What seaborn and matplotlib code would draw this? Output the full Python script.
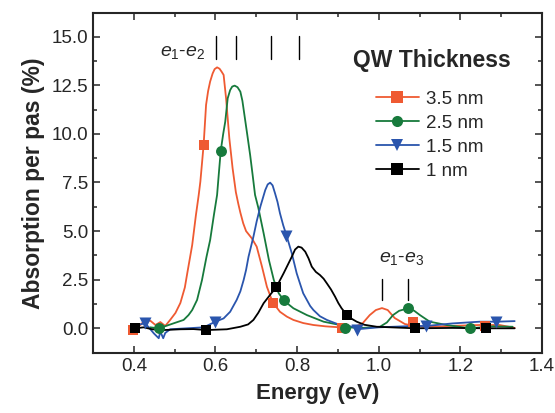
import numpy as np
import pandas as pd
import matplotlib
matplotlib.use("Agg")
import matplotlib.pyplot as plt
from matplotlib.lines import Line2D
from matplotlib.ticker import MultipleLocator
import seaborn as sns

# ---------------- data ----------------
labels = ["3.5 nm", "2.5 nm", "1.5 nm", "1 nm"]
colors = ["#ef5a32", "#177a3c", "#2a55ad", "#000000"]
markers = ["s", "o", "v", "s"]

x_35 = [0.397, 0.416, 0.428, 0.441, 0.453, 0.465, 0.477, 0.489, 0.502, 0.514, 0.525, 0.531,
        0.543, 0.552, 0.559, 0.563, 0.571, 0.577, 0.582, 0.587, 0.593, 0.598, 0.604, 0.610,
        0.615, 0.620, 0.626, 0.634, 0.642, 0.650, 0.656, 0.661, 0.668, 0.675, 0.689, 0.701,
        0.714, 0.726, 0.738, 0.742, 0.758, 0.775, 0.791, 0.815, 0.840, 0.870, 0.905, 0.942,
        0.961, 0.978, 0.993, 1.008, 1.022, 1.039, 1.064, 1.088, 1.125, 1.174, 1.248, 1.296,
        1.333]
y_35 = [-0.09, 0.17, 0.43, 0.38, 0.17, 0.32, 0.12, 0.43, 0.79, 1.30, 2.10, 2.84,
        4.28, 5.80, 6.86, 7.54, 9.43, 11.49, 12.20, 12.69, 13.10, 13.33, 13.42, 13.35,
        13.20, 13.03, 11.83, 9.77, 8.23, 7.00, 6.40, 5.95, 5.40, 5.00, 4.63, 4.20,
        3.17, 2.14, 1.46, 1.29, 0.85, 0.60, 0.43, 0.27, 0.17, 0.10, 0.05, 0.07,
        0.27, 0.68, 0.94, 1.04, 0.94, 0.53, 0.22, 0.12, 0.07, 0.12, 0.17, 0.17,
        0.02]

x_25 = [0.440, 0.461, 0.473, 0.498, 0.522, 0.534, 0.543, 0.555, 0.567, 0.578, 0.587, 0.596,
        0.604, 0.608, 0.613, 0.619, 0.624, 0.630, 0.636, 0.641, 0.647, 0.654, 0.661, 0.666,
        0.671, 0.678, 0.685, 0.691, 0.697, 0.705, 0.718, 0.731, 0.743, 0.755, 0.766, 0.778,
        0.791, 0.824, 0.865, 0.905, 0.918, 0.960, 1.003, 1.020, 1.035, 1.050, 1.072, 1.087,
        1.101, 1.125, 1.166, 1.223, 1.280, 1.328]
y_25 = [0.05, 0.00, 0.08, 0.26, 0.43, 0.68, 0.94, 1.46, 2.48, 3.67, 4.54, 5.80,
        6.86, 7.89, 9.14, 10.00, 10.63, 11.83, 12.25, 12.43, 12.48, 12.40, 12.17, 11.70,
        10.97, 9.95, 8.91, 7.90, 6.86, 6.20, 4.89, 3.51, 2.48, 1.80, 1.49, 1.25,
        1.03, 0.68, 0.34, 0.17, 0.05, 0.02, 0.08, 0.30, 0.68, 0.90, 1.03, 0.90,
        0.68, 0.34, 0.17, 0.00, 0.10, 0.08]

x_15 = [0.415, 0.428, 0.449, 0.461, 0.465, 0.472, 0.477, 0.489, 0.530, 0.571, 0.600, 0.620,
        0.636, 0.652, 0.661, 0.669, 0.675, 0.681, 0.693, 0.701, 0.710, 0.722, 0.728, 0.734,
        0.740, 0.746, 0.752, 0.758, 0.766, 0.775, 0.787, 0.799, 0.807, 0.815, 0.832, 0.840,
        0.856, 0.873, 0.905, 0.938, 0.946, 1.000, 1.084, 1.117, 1.180, 1.247, 1.288, 1.333]
y_15 = [0.20, 0.26, -0.26, -0.51, -0.17, -0.51, -0.24, -0.05, 0.00, 0.05, 0.34, 0.51,
        0.85, 1.46, 1.90, 2.48, 3.00, 3.68, 4.71, 5.50, 6.26, 7.11, 7.40, 7.49,
        7.35, 6.94, 6.50, 5.92, 5.30, 4.71, 3.86, 2.83, 2.31, 1.80, 1.15, 0.94,
        0.62, 0.43, 0.17, 0.08, -0.05, 0.05, 0.12, 0.12, 0.25, 0.34, 0.34, 0.37]

x_10 = [0.404, 0.424, 0.445, 0.473, 0.514, 0.546, 0.578, 0.628, 0.661, 0.680, 0.693, 0.705,
        0.718, 0.735, 0.749, 0.767, 0.787, 0.795, 0.803, 0.811, 0.820, 0.828, 0.836, 0.846,
        0.856, 0.865, 0.873, 0.883, 0.893, 0.901, 0.909, 0.920, 0.933, 0.946, 0.965, 0.995,
        1.089, 1.180, 1.264, 1.333]
y_10 = [0.00, 0.05, -0.05, -0.09, -0.05, -0.04, -0.09, -0.05, 0.08, 0.20, 0.43, 0.80,
        1.29, 1.75, 2.11, 2.83, 3.68, 4.05, 4.20, 4.15, 3.94, 3.60, 3.17, 2.90,
        2.74, 2.55, 2.31, 2.00, 1.63, 1.30, 1.03, 0.74, 0.50, 0.34, 0.18, 0.08,
        0.00, 0.02, 0.00, 0.00]

# sparse symbols on each curve
mx_35 = [0.397, 0.571, 0.742, 0.909, 1.084, 1.260]
my_35 = [-0.09, 9.43, 1.29, 0.00, 0.30, 0.12]
mx_25 = [0.461, 0.613, 0.767, 0.917, 1.072, 1.223]
my_25 = [0.00, 9.14, 1.46, 0.00, 1.03, 0.00]
mx_15 = [0.428, 0.600, 0.773, 0.946, 1.117, 1.288]
my_15 = [0.26, 0.34, 4.75, -0.09, 0.12, 0.34]
mx_10 = [0.404, 0.578, 0.749, 0.922, 1.089, 1.264]
my_10 = [0.00, -0.09, 2.14, 0.68, 0.00, 0.00]

# transition markers
e12_energies = [0.601, 0.651, 0.736, 0.805]
e13_energies = [1.007, 1.071]

curves = [(x_35, y_35, mx_35, my_35), (x_25, y_25, mx_25, my_25),
          (x_15, y_15, mx_15, my_15), (x_10, y_10, mx_10, my_10)]

# ---------------- style ----------------
sns.set_style("ticks")
plt.rcParams["font.family"] = ["Liberation Sans", "DejaVu Sans"]
plt.rcParams["mathtext.fontset"] = "custom"
plt.rcParams["mathtext.rm"] = "Liberation Sans"
plt.rcParams["mathtext.it"] = "Liberation Sans:italic"
plt.rcParams["mathtext.bf"] = "Liberation Sans:bold"

fig = plt.figure(figsize=(5.55, 4.13), dpi=100)
ax = fig.add_axes([93 / 555, (413 - 353) / 413, (542 - 93) / 555, (353 - 13.3) / 413])

for (xs, ys, mxs, mys), lab, col, mk in zip(curves, labels, colors, markers):
    df = pd.DataFrame({"Energy": xs, "Abs": ys})
    sns.lineplot(data=df, x="Energy", y="Abs", color=col, lw=1.3, sort=False,
                 estimator=None, ax=ax, legend=False)
    dm = pd.DataFrame({"Energy": mxs, "Abs": mys})
    ms = 62 if mk != "v" else 75
    sns.scatterplot(data=dm, x="Energy", y="Abs", color=col, marker=mk, s=ms,
                    linewidth=0, ax=ax, legend=False, zorder=3)

ax.set_xlim(0.3, 1.4)
ax.set_ylim(-1.27, 16.2)
ax.xaxis.set_major_locator(MultipleLocator(0.2))
ax.xaxis.set_minor_locator(MultipleLocator(0.1))
ax.yaxis.set_major_locator(MultipleLocator(2.5))
ax.yaxis.set_minor_locator(MultipleLocator(1.25))
ax.xaxis.set_major_formatter(plt.FuncFormatter(lambda v, p: f"{v:.1f}"))
ax.yaxis.set_major_formatter(plt.FuncFormatter(lambda v, p: f"{v:.1f}"))
ax.tick_params(which="both", direction="in", top=True, right=True, width=1.1, labelsize=13.5)
ax.tick_params(which="major", length=5)
ax.tick_params(which="minor", length=2.8)
for s in ax.spines.values():
    s.set_linewidth(1.5)

ax.set_xlabel("Energy (eV)", fontsize=16, fontweight="bold", labelpad=6)
ax.set_ylabel("Absorption per pas (%)", fontsize=16.5, fontweight="bold", labelpad=5)

# transition markers and labels
for e in e12_energies:
    ax.plot([e, e], [13.84, 15.04], color="black", lw=1.0)
for e in e13_energies:
    ax.plot([e, e], [1.46, 2.55], color="black", lw=1.0)
ax.text(0.52, 14.2, r"$e_\mathregular{1}$-$e_\mathregular{2}$", fontsize=14, ha="center", va="center")
ax.text(1.057, 3.6, r"$e_\mathregular{1}$-$e_\mathregular{3}$", fontsize=14, ha="center", va="center")

# legend
ax.text(0.755, 0.8625, "QW Thickness", transform=ax.transAxes, fontsize=16.5,
        fontweight="bold", ha="center", va="center")
handles = [Line2D([0], [0], color=c, lw=1.3, marker=m, markersize=8 if m != "v" else 9,
                  markeredgewidth=0) for c, m in zip(colors, markers)]
ax.legend(handles, labels, loc="upper left", bbox_to_anchor=(0.63, 0.773), frameon=False,
          fontsize=13.5, handlelength=2.3, handletextpad=0.35, labelspacing=0.37,
          borderpad=0, borderaxespad=0)

fig.savefig("out.png", dpi=100)
